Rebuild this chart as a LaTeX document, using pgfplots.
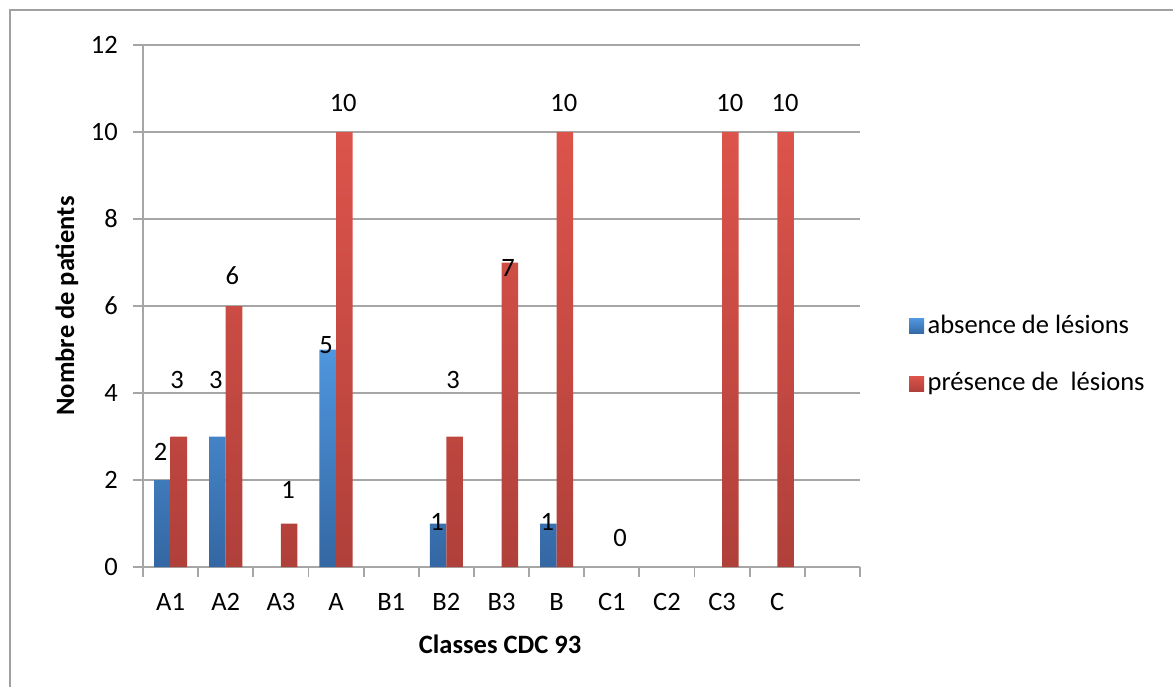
\documentclass[border=0pt]{standalone}
\usepackage{pgfplots}
\pgfplotsset{compat=1.18}
\usepackage{fontspec}
\setmainfont{Carlito}
\definecolor{gridgray}{HTML}{A6A6A6}
\definecolor{frameg}{HTML}{A0A0A0}
\definecolor{bluetop}{HTML}{4F96DE}
\definecolor{bluebot}{HTML}{3467A3}
\definecolor{redtop}{HTML}{DC544B}
\definecolor{redbot}{HTML}{B0403A}
\begin{document}
\fontsize{13.25pt}{16pt}\selectfont
\begin{tikzpicture}[x=1pt,y=1pt]
\path[use as bounding box] (0,0) rectangle (586.5,343.5);
\draw[frameg, line width=1pt] (5,0) -- (5,338.5) -- (586.5,338.5);
\begin{axis}[
  at={(71.5pt,60pt)}, anchor=south west,
  scale only axis, width=358.5pt, height=261pt,
  xmin=-0.5, xmax=12.5, ymin=0, ymax=12,
  axis x line=bottom, axis y line=left,
  axis line style={gridgray, line width=0.9pt, -},
  ytick={0,2,...,12},
  ymajorgrids, grid style={gridgray, line width=0.9pt},
  xtick={-0.5,0.5,...,12.5},
  xticklabels={A1,A2,A3,A,B1,B2,B3,B,C1,C2,C3,C,{},{}},
  xticklabel style={xshift=13.79pt, yshift=-3.5pt},
  yticklabel style={xshift=-3pt},
  tick align=outside, major tick length=5pt,
  tick style={gridgray, line width=0.9pt},
  /pgf/number format/assume math mode=true,
  xlabel={\bfseries Classes CDC 93},
  ylabel={\bfseries Nombre de patients},
  xlabel style={at={(axis description cs:0.498,-0.149)}, anchor=center},
  ylabel style={at={(axis description cs:-0.106,0.5)}, anchor=center, rotate=0},
  legend style={draw=none, fill=none, at={(1.068,0.406)}, anchor=west,
    inner sep=0pt, row sep=14pt, legend cell align=left,
    nodes={inner sep=1.75pt}},
  clip=false,
]
\addplot[ybar, bar width=0.3, bar shift=-0.15, draw=none,
  top color=bluetop, bottom color=bluebot,
  legend image code/.code={\shade[top color=bluetop, bottom color=bluebot] (0pt,-3.75pt) rectangle (7.5pt,3.75pt);}]
  coordinates {(0,2) (1,3) (3,5) (5,1) (7,1)};
\addlegendentry{absence de lésions}
\addplot[ybar, bar width=0.3, bar shift=0.15, draw=none,
  top color=redtop, bottom color=redbot,
  legend image code/.code={\shade[top color=redtop, bottom color=redbot] (0pt,-3.75pt) rectangle (7.5pt,3.75pt);}]
  coordinates {(0,3) (1,6) (2,1) (3,10) (5,3) (6,7) (7,10) (10,10) (11,10)};
\addlegendentry{présence de\ \ lésions}
% data labels (value shown as text, placed near each bar)
\addplot[forget plot, draw=none, mark=none, nodes near coords, point meta=explicit symbolic,
  every node near coord/.style={anchor=center, inner sep=0pt}]
  coordinates {(-0.18,2.64) [2] (0.82,4.30) [3] (2.82,5.10) [5] (4.83,1.03) [1] (6.83,1.03) [1]};
\addplot[forget plot, draw=none, mark=none, nodes near coords, point meta=explicit symbolic,
  every node near coord/.style={anchor=center, inner sep=0pt}]
  coordinates {(0.12,4.30) [3] (1.12,6.69) [6] (2.13,1.77) [1] (3.13,10.67) [10] (5.12,4.30) [3]
               (6.12,6.87) [7] (7.13,10.67) [10] (8.15,0.67) [0] (10.14,10.67) [10] (11.14,10.67) [10]};
\end{axis}
\end{tikzpicture}
\end{document}
